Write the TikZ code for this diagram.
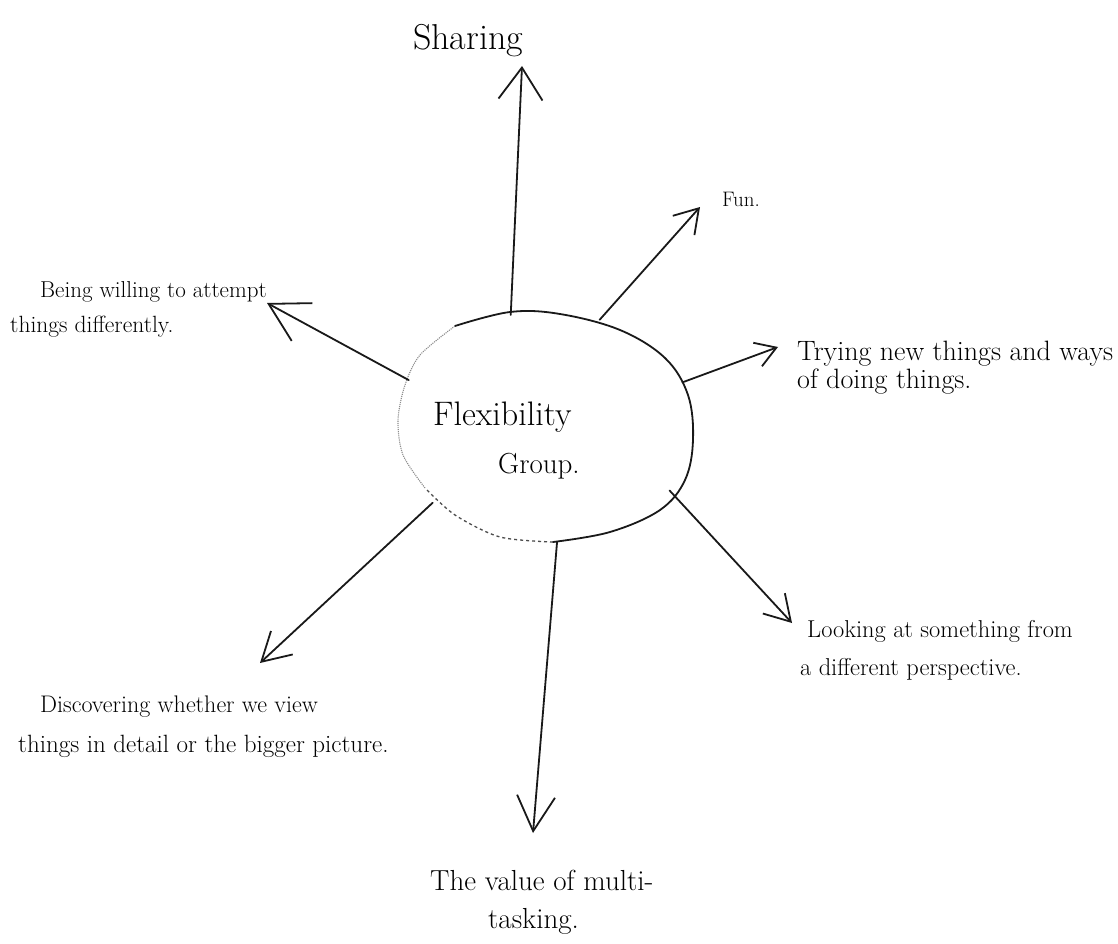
\documentclass[tikz,border=0pt]{standalone}
\usetikzlibrary{arrows.meta,shapes.geometric}
\begin{document}
\begin{tikzpicture}[x=1pt,y=-1pt,
  ink/.style={line width=1.8pt, line cap=round, line join=round, draw=black!90},
  head/.style args={#1/#2}{-{Straight Barb[length=#1pt,width=#2pt]}},
  lbl/.style={anchor=base west, inner sep=0pt, text=black},
  hub/.style={ellipse, draw=none, inner sep=0pt, minimum width=298pt, minimum height=230pt}]
\path[use as bounding box, fill=white] (0,0) rectangle (1118,944);

% central bubble
\node[hub] (c) at (545,427) {};
\draw[ink] plot[smooth, tension=0.6] coordinates
  {(455,326) (510,312) (560,314) (620,330) (665,358) (688,395) (693,440) (685,480) (660,510) (610,532) (553,542)};
\draw[line width=1.3pt, draw=black!70, dashed] plot[smooth] coordinates
  {(553,542) (500,537) (455,515) (425,488)};
\draw[line width=1.1pt, draw=black!45, densely dotted] plot[smooth] coordinates
  {(425,488) (403,455) (398,420) (405,385) (420,355) (455,326)};
\node[lbl, font=\fontsize{34}{40}\selectfont] (flex) at (433,425) {Flexibility};
\node[lbl, font=\fontsize{29}{34}\selectfont] (grp) at (498,473) {Group.};

% arrow tips
\coordinate (tShare) at (522,66);
\coordinate (tFun) at (700,207);
\coordinate (tTry) at (778,347);
\coordinate (tLook) at (792,623);
\coordinate (tValue) at (533,833);
\coordinate (tDisc) at (260,663);
\coordinate (tBeing) at (267,303);

% branches
\draw[ink, head=32/44] (c.107) -- (tShare);
\draw[ink, head=23/29] (c.63) -- (tFun);
\draw[ink, head=20/25] (c.18) -- (tTry);
\draw[ink, head=25/30] (c.-27) -- (tLook);
\draw[ink, head=35/38] (c.-84) -- (tValue);
\draw[ink, head=28/32] (c.214) -- (tDisc);
\draw[ink, head=38/43] (c.161) -- (tBeing);

% labels
\node[lbl, font=\fontsize{36}{42}\selectfont] (share) at (413,50) {Sharing};
\node[lbl, font=\fontsize{21}{25}\selectfont] (fun) at (722,207) {Fun.};
\node[lbl, font=\fontsize{28}{33}\selectfont] (try1) at (797,360) {Trying new things and ways};
\node[lbl, font=\fontsize{28}{33}\selectfont] (try2) at (797,388) {of doing things.};
\node[lbl, font=\fontsize{24.4}{29}\selectfont] (look1) at (807,637) {Looking at something from};
\node[lbl, font=\fontsize{24.4}{29}\selectfont] (look2) at (800,675) {a different perspective.};
\node[lbl, font=\fontsize{29}{34}\selectfont] (val1) at (430,890) {The value of multi-};
\node[lbl, font=\fontsize{29}{34}\selectfont] (val2) at (488,928) {tasking.};
\node[lbl, font=\fontsize{24}{29}\selectfont] (disc1) at (40,712) {Discovering whether we view};
\node[lbl, font=\fontsize{25}{30}\selectfont] (disc2) at (18,752) {things in detail or the bigger picture.};
\node[lbl, font=\fontsize{23}{28}\selectfont] (being1) at (40,297) {Being willing to attempt};
\node[lbl, font=\fontsize{23.5}{28}\selectfont] (being2) at (10,332) {things differently.};
\end{tikzpicture}
\end{document}
